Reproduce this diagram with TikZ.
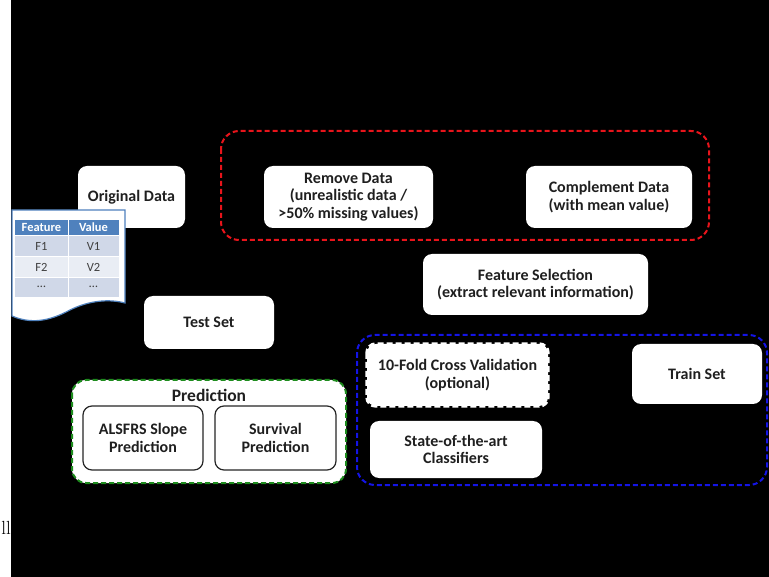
\documentclass[tikz,border=0pt]{standalone}
\usepackage{fontspec}
\newfontfamily\calibri{Carlito}
\definecolor{tblue}{HTML}{4F81BD}
\definecolor{rowa}{HTML}{D0D8E8}
\definecolor{rowb}{HTML}{E9EDF4}
\definecolor{dashred}{HTML}{E8141B}
\definecolor{dashblue}{HTML}{1414E6}
\definecolor{dashgreen}{HTML}{1E8C1E}
\tikzset{
  card/.style={fill=white, rounded corners=9pt, align=center, inner sep=0pt,
    text=black!88, font=\calibri\bfseries\fontsize{16}{17.5}\selectfont},
  subcard/.style={card, draw=black!85, line width=1.2pt},
  groupbox/.style={rounded corners=18pt, line width=2pt, dash pattern=on 5pt off 3pt},
  hdrtext/.style={text=white, font=\calibri\bfseries\fontsize{12.5}{14}\selectfont, inner sep=0pt},
  celltext/.style={text=black!75, font=\calibri\fontsize{12.5}{14}\selectfont, inner sep=0pt}
}
\begin{document}
\begin{tikzpicture}[x=1pt,y=-1pt]
\useasboundingbox (0,0) rectangle (769,577);
\fill[white] (0,0) rectangle (769,577);
\node[anchor=base east, inner sep=0pt, font=\fontsize{19}{22}\selectfont] (cut) at (11,534) {ll};
\fill[black] (11,0) rectangle (769,577);

% preprocessing group
\draw[groupbox, draw=dashred] (221,131) rectangle (709,240);
\node[card, minimum width=169pt, minimum height=62pt] (remove) at (348.5,197)
  {Remove Data\\(unrealistic data /\\>50\% missing values)};
\node[card, minimum width=166pt, minimum height=62pt] (complement) at (609,197)
  {Complement Data\\(with mean value)};

\node[card, minimum width=107pt, minimum height=62pt] (orig) at (131.5,197) {Original Data};

% data sheet
\draw[tblue, line width=1.2pt, fill=white]
  (12,210) -- (125,210) -- (125,303)
  .. controls (110,299) and (90,300) .. (70,310)
  .. controls (55,318) and (35,326) .. (12,316) -- cycle;
\fill[tblue] (15,220) rectangle (67.5,235);
\fill[tblue] (68.5,220) rectangle (119,235);
\foreach \ya/\yb/\c in {236/256/rowa, 257/277/rowb, 278/297/rowa}{
  \fill[\c] (15,\ya) rectangle (67.5,\yb);
  \fill[\c] (68.5,\ya) rectangle (119,\yb);
}
\node[hdrtext] (hfeat) at (41.5,227.5) {Feature};
\node[hdrtext] (hval) at (93.5,227.5) {Value};
\node[celltext] (fa) at (41.5,246) {F1};
\node[celltext] (va) at (93.5,246) {V1};
\node[celltext] (fb) at (41.5,267) {F2};
\node[celltext] (vb) at (93.5,267) {V2};
\node[celltext] (fc) at (41.5,287) {\dots};
\node[celltext] (vc) at (93.5,287) {\dots};

\node[card, minimum width=130pt, minimum height=53pt] (test) at (209,322.5) {Test Set};
\node[card, minimum width=225pt, minimum height=61pt] (fsel) at (535.5,284.5)
  {Feature Selection\\(extract relevant information)};

% training group
\draw[groupbox, draw=dashblue] (357,335) rectangle (767,485);
\node[card, minimum width=181pt, minimum height=62pt] (cv) at (457.5,375)
  {10-Fold Cross Validation\\(optional)};
\draw[white, line width=3pt, dash pattern=on 6pt off 3pt, rounded corners=9pt]
  (cv.north west) rectangle (cv.south east);
\node[card, minimum width=130pt, minimum height=60pt] (train) at (697,374) {Train Set};
\node[card, minimum width=172pt, minimum height=57pt] (clf) at (456,449.5)
  {State-of-the-art\\Classifiers};

% prediction group
\draw[groupbox, draw=dashgreen, fill=white, rounded corners=14pt] (72,380) rectangle (346,483);
\node[inner sep=0pt, text=black!88, font=\calibri\bfseries\fontsize{17.5}{20}\selectfont] (pred) at (209,395) {Prediction};
\node[subcard, minimum width=120pt, minimum height=64pt] (slope) at (143,438)
  {ALSFRS Slope\\Prediction};
\node[subcard, minimum width=121pt, minimum height=64pt] (surv) at (275.5,438)
  {Survival\\Prediction};
\end{tikzpicture}
\end{document}
